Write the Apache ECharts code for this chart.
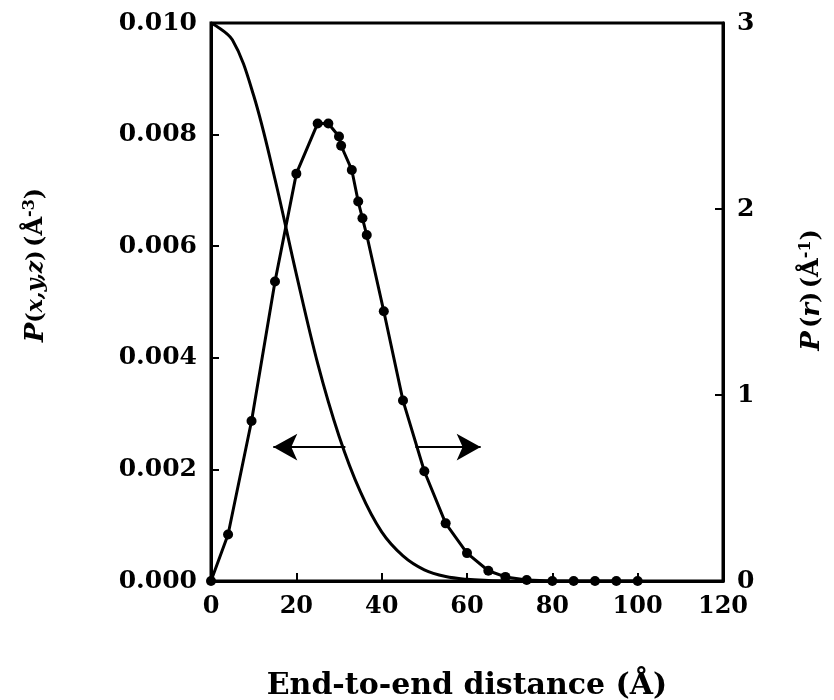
<!DOCTYPE html>
<html>
<head>
<meta charset="utf-8">
<script src="https://cdn.jsdelivr.net/npm/echarts@6/dist/echarts.min.js"></script>
<style>
  html, body { margin: 0; padding: 0; background: #fff; }
  #main { width: 834px; height: 700px; }
</style>
</head>
<body>
<div id="main"></div>
<script>
// P(x,y,z) curve, left axis
const xyzDist = [0, 5, 10, 15, 20, 25, 30, 35, 40, 45, 50, 55, 60, 65, 70];
const xyzProb = [0.0100, 0.0097, 0.0087, 0.0072, 0.0055, 0.0039, 0.0026, 0.0016,
  0.00088, 0.00045, 0.00020, 0.00008, 0.00003, 0.00001, 0];

// P(r) points, right axis
const rDist = [0, 4, 9.5, 15, 20, 25, 27.5, 30, 30.5, 33, 34.5, 35.5, 36.5, 40.5,
  45, 50, 55, 60, 65, 69, 74, 80, 85, 90, 95, 100];
const rProb = [0, 0.25, 0.86, 1.61, 2.19, 2.46, 2.46, 2.39, 2.34, 2.21, 2.04, 1.95,
  1.86, 1.45, 0.97, 0.59, 0.31, 0.15, 0.055, 0.022, 0.005, 0, 0, 0, 0, 0];

// arrows: [from x, to x] at height arrowY (left axis units)
const arrowLeft = [31.5, 14.6];
const arrowRight = [47.9, 63.2];
const arrowY = 0.0024;

const xTicks = [0, 20, 40, 60, 80, 100, 120];

const font = 'DejaVu Serif';
const chart = echarts.init(document.getElementById('main'));

chart.setOption({
  animation: false,
  backgroundColor: '#fff',
  grid: {
    left: 211, right: 111, top: 23, bottom: 119,
    outerBoundsMode: 'none',
    containLabel: false,
    show: true, borderColor: '#000', borderWidth: 3, backgroundColor: 'transparent'
  },
  xAxis: {
    type: 'value',
    min: xTicks[0], max: xTicks[xTicks.length - 1], interval: 20,
    axisLine: { lineStyle: { color: '#000', width: 3 } },
    axisTick: { inside: true, length: 8, lineStyle: { color: '#000', width: 2 } },
    splitLine: { show: false },
    axisLabel: { color: '#000', fontFamily: font, fontWeight: 'bold', fontSize: 24, margin: 14 },
    name: 'End-to-end distance (Å)',
    nameLocation: 'middle',
    nameGap: 90,
    nameTextStyle: { color: '#000', fontFamily: font, fontWeight: 'bold', fontSize: 30 }
  },
  yAxis: [{
    type: 'value',
    min: 0, max: 0.01, interval: 0.002,
    axisLine: { show: true, lineStyle: { color: '#000', width: 3 } },
    axisTick: { show: true, inside: true, length: 8, lineStyle: { color: '#000', width: 2 } },
    splitLine: { show: false },
    axisLabel: {
      color: '#000', fontFamily: font, fontWeight: 'bold', fontSize: 25, margin: 14,
      formatter: v => v.toFixed(3)
    }
  }, {
    type: 'value',
    position: 'right',
    min: 0, max: 3, interval: 1,
    axisLine: { show: true, lineStyle: { color: '#000', width: 3 } },
    axisTick: { show: true, inside: true, length: 8, lineStyle: { color: '#000', width: 2 } },
    splitLine: { show: false },
    axisLabel: { color: '#000', fontFamily: font, fontWeight: 'bold', fontSize: 25, margin: 14 }
  }],
  graphic: [{
    type: 'text',
    x: 36, y: 265,
    rotation: Math.PI / 2,
    style: {
      text: '{i|P}{p|(}{i2|x,y,z}{p|)} {n|(Å}{s|-3}{n|)}',
      align: 'center', verticalAlign: 'middle', fill: '#000',
      rich: {
        i: { fontFamily: font, fontWeight: 'bold', fontStyle: 'italic', fontSize: 26 },
        i2: { fontFamily: font, fontWeight: 'bold', fontStyle: 'italic', fontSize: 22 },
        p: { fontFamily: font, fontWeight: 'bold', fontSize: 22 },
        n: { fontFamily: font, fontWeight: 'bold', fontSize: 24 },
        s: { fontFamily: font, fontWeight: 'bold', fontSize: 16, verticalAlign: 'top', padding: [0, 0, 12, 0] }
      }
    }
  }, {
    type: 'text',
    x: 812, y: 290,
    rotation: Math.PI / 2,
    style: {
      text: '{i|P} {n|(}{i|r}{n|)} {n|(Å}{s|-1}{n|)}',
      align: 'center', verticalAlign: 'middle', fill: '#000',
      rich: {
        i: { fontFamily: font, fontWeight: 'bold', fontStyle: 'italic', fontSize: 26 },
        n: { fontFamily: font, fontWeight: 'bold', fontSize: 24 },
        s: { fontFamily: font, fontWeight: 'bold', fontSize: 16, verticalAlign: 'top', padding: [0, 0, 12, 0] }
      }
    }
  }],
  series: [{
    name: 'P(x,y,z)',
    type: 'line',
    yAxisIndex: 0,
    data: xyzDist.map((x, i) => [x, xyzProb[i]]),
    smooth: 0.35,
    showSymbol: false,
    lineStyle: { color: '#000', width: 3 },
    markLine: {
      silent: true,
      symbol: ['none', 'arrow'],
      symbolSize: [20, 24],
      label: { show: false },
      lineStyle: { color: '#000', width: 2, type: 'solid' },
      itemStyle: { color: '#000' },
      data: [
        [{ coord: [arrowLeft[0], arrowY] }, { coord: [arrowLeft[1], arrowY] }],
        [{ coord: [arrowRight[0], arrowY] }, { coord: [arrowRight[1], arrowY] }]
      ]
    }
  }, {
    name: 'P(r)',
    type: 'line',
    yAxisIndex: 1,
    data: rDist.map((x, i) => [x, rProb[i]]),
    symbol: 'circle',
    symbolSize: 10,
    itemStyle: { color: '#000' },
    lineStyle: { color: '#000', width: 3 }
  }]
});
</script>
</body>
</html>
